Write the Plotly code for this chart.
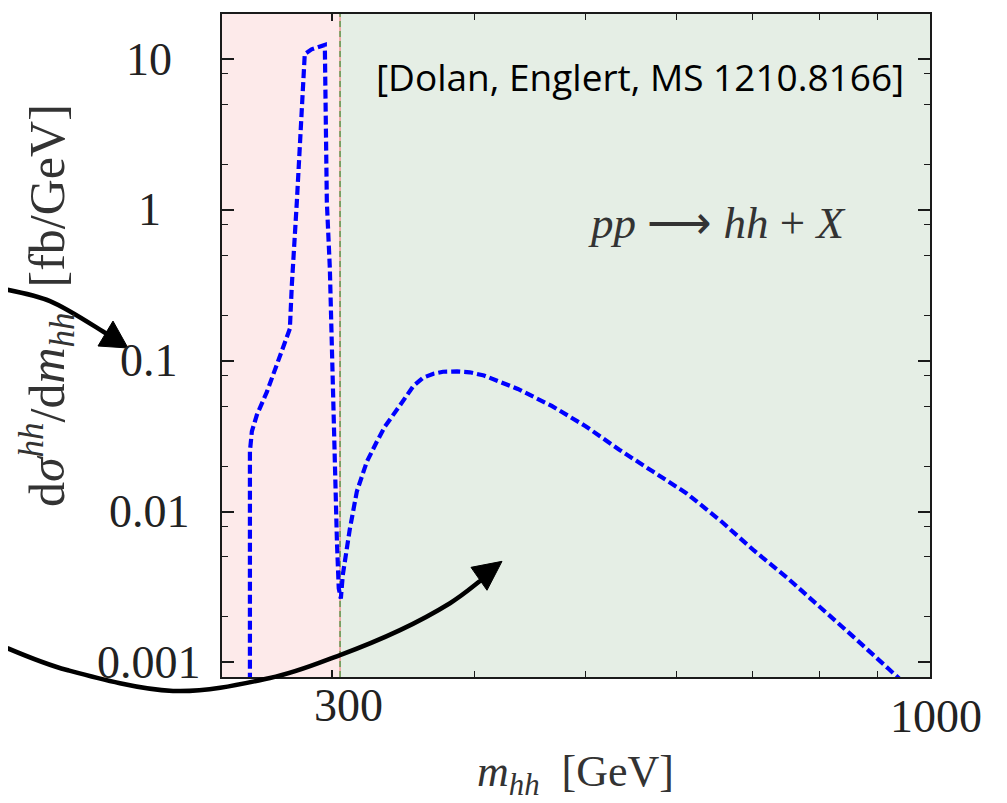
import numpy as np
import plotly.graph_objects as go

# ---------------- data ----------------
mhh = [254.4, 254.4, 255.4, 258.0, 263.3, 268.6, 274.1, 275.7, 276.8, 278.5,
       279.6, 284.1, 288.0, 295.8, 297.0, 298.8, 300.0, 301.8, 303.1, 304.2,
       305.5, 306.7, 311.1, 315.5, 321.9, 328.4, 333.8, 344.0, 348.7, 353.5,
       360.4, 368.1, 375.2, 386.0, 396.0, 407.5, 436.2, 467.0, 500.0, 535.0,
       572.6, 612.8, 655.9, 702.0, 751.3, 804.0, 860.4, 920.9, 953.0]
dsigma = [0.0005, 0.025, 0.034, 0.0438, 0.0624, 0.094, 0.14, 0.163, 0.318, 0.68,
          1.13, 10.8, 11.6, 12.4, 1.13, 0.41, 0.115, 0.029, 0.0063, 0.0031,
          0.00265, 0.0038, 0.0077, 0.0136, 0.0214, 0.029, 0.0366, 0.0504, 0.0593, 0.068,
          0.0771, 0.082, 0.0845, 0.085, 0.0838, 0.0798, 0.065, 0.0502, 0.0368, 0.0257,
          0.0184, 0.0132, 0.0087, 0.0055, 0.0036, 0.00229, 0.00144, 0.0009, 0.00071]

x_range = [240.5, 1000.0]
y_range = [0.0008, 19.9]
boundary = 305.0

x_tickvals = [300, 1000]
x_ticktext = ["300", "1000"]
x_minor = [400, 500, 600, 700, 800, 900]
y_tickvals = [0.001, 0.01, 0.1, 1, 10]
y_ticktext = ["0.001", "0.01", "0.1", "1", "10"]
y_minor = [m * 10.0 ** e for e in range(-3, 2) for m in (2, 5, 8)]

citation = "[Dolan, Englert, MS 1210.8166]"
process = "<i>pp</i> \u27f6 <i>hh</i> + <i>X</i>"
x_title = "<i>m</i><sub><i>hh</i></sub>  [GeV]"
y_title = "d<i>\u03c3</i><sup><i>hh</i></sup>/d<i>m</i><sub><i>hh</i></sub>  [fb/GeV]"

# ---------------- layout geometry ----------------
# page is rendered with an 8px body margin, so the figure is 8px smaller
OFF = 8
W, H = 1007 - OFF, 803 - OFF
L, R, T, B = 222 - OFF, 77, 12 - OFF, 126
PW, PH = W - L - R, H - T - B
PLOT_L, PLOT_B = L + OFF, T + OFF + PH   # page coordinates of plot corner


def px(xp, yp):
    """page pixel position -> paper coordinates (for decorations only)"""
    return (xp - PLOT_L) / PW, (PLOT_B - yp) / PH


def smooth_path(pts):
    P = [px(*p) for p in pts]
    d = "M %.5f %.5f" % P[0]
    for i in range(len(P) - 1):
        p0 = P[i - 1] if i > 0 else P[i]
        p1, p2 = P[i], P[i + 1]
        p3 = P[i + 2] if i + 2 < len(P) else P[i + 1]
        c1 = (p1[0] + (p2[0] - p0[0]) / 6, p1[1] + (p2[1] - p0[1]) / 6)
        c2 = (p2[0] - (p3[0] - p1[0]) / 6, p2[1] - (p3[1] - p1[1]) / 6)
        d += " C %.5f %.5f %.5f %.5f %.5f %.5f" % (c1 + c2 + p2)
    return d


def tri_path(pts):
    P = [px(*p) for p in pts]
    return "M %.5f %.5f L %.5f %.5f L %.5f %.5f Z" % (P[0] + P[1] + P[2])


lx0, lx1 = np.log10(x_range[0]), np.log10(x_range[1])
xb = (np.log10(boundary) - lx0) / (lx1 - lx0)

fig = go.Figure()
fig.add_trace(go.Scatter(
    x=mhh, y=dsigma, mode="lines",
    line=dict(color="#0000ff", width=4.2, dash="9px,4px"),
    showlegend=False, hoverinfo="skip"))

shapes = [
    dict(type="rect", xref="paper", yref="paper", x0=0, x1=xb, y0=0, y1=1,
         fillcolor="#fdeaea", line=dict(width=0), layer="below"),
    dict(type="rect", xref="paper", yref="paper", x0=xb, x1=1, y0=0, y1=1,
         fillcolor="#e5eee5", line=dict(width=0), layer="below"),
    dict(type="line", xref="paper", yref="paper", x0=xb, x1=xb, y0=0, y1=1,
         line=dict(color="#f08080", width=1.2), layer="below"),
    dict(type="line", xref="paper", yref="paper", x0=xb, x1=xb, y0=0, y1=1,
         line=dict(color="#3a9a3a", width=1.2, dash="6px,4px"), layer="below"),
    # decorative arrows
    dict(type="path", xref="paper", yref="paper",
         path=smooth_path([(-5, 286), (50, 300), (107, 333)]),
         line=dict(color="black", width=4.5)),
    dict(type="path", xref="paper", yref="paper",
         path=tri_path([(128, 347), (98, 345), (113, 320)]),
         fillcolor="black", line=dict(color="black", width=1)),
    dict(type="path", xref="paper", yref="paper",
         path=smooth_path([(-5, 643), (67, 670), (173, 691), (270, 678),
                           (340, 655), (400, 630), (450, 603), (481, 580)]),
         line=dict(color="black", width=4.5)),
    dict(type="path", xref="paper", yref="paper",
         path=tri_path([(502, 561), (471, 567), (487, 590)]),
         fillcolor="black", line=dict(color="black", width=1)),
]

serif = "Liberation Serif, Times New Roman, serif"
tick_font = dict(family=serif, size=46, color="#222222")
ax_common = dict(
    type="log", showgrid=False, zeroline=False,
    showline=True, linecolor="#1a1a1a", linewidth=2, mirror="ticks",
    ticks="inside", tickcolor="#1a1a1a", tickwidth=1.6, showticklabels=False,
)

annotations = []
# y tick labels: centred in a column left of the axis (as in the reference)
for v, t in zip(y_tickvals, y_ticktext):
    annotations.append(dict(text=t, xref="paper", x=px(149, 0)[0], yref="y",
                            y=np.log10(v), showarrow=False, xanchor="center",
                            yanchor="middle", font=tick_font))
# x tick labels
x_label_shift = [(17, 28), (6, 39)]
for v, t, (dx, dy) in zip(x_tickvals, x_ticktext, x_label_shift):
    annotations.append(dict(text=t, xref="x", x=np.log10(v), yref="paper", y=0,
                            showarrow=False, xanchor="center", yanchor="middle",
                            xshift=dx, yshift=-dy, font=tick_font))

annotations += [
    dict(text=citation, xref="paper", yref="paper",
         x=px(640, 75)[0], y=px(640, 75)[1], showarrow=False,
         xanchor="center", yanchor="middle",
         font=dict(family="Comic Sans MS, Open Sans, sans-serif", size=37, color="black")),
    dict(text=process, xref="paper", yref="paper",
         x=px(716, 222)[0], y=px(716, 222)[1], showarrow=False,
         xanchor="center", yanchor="middle",
         font=dict(family=serif, size=45, color="#333333")),
    dict(text=x_title, xref="paper", yref="paper",
         x=px(575, 775)[0], y=px(575, 775)[1], showarrow=False,
         xanchor="center", yanchor="middle",
         font=dict(family=serif, size=44, color="#333333")),
    dict(text=y_title, xref="paper", yref="paper", textangle=-90,
         x=px(47, 305)[0], y=px(47, 305)[1], showarrow=False,
         xanchor="center", yanchor="middle",
         font=dict(family=serif, size=50, color="#333333")),
]

fig.update_layout(
    width=W, height=H,
    margin=dict(l=L, r=R, t=T, b=B),
    paper_bgcolor="white", plot_bgcolor="white",
    shapes=shapes,
    xaxis=dict(ax_common, range=[lx0, lx1], tickmode="array",
               tickvals=x_tickvals, ticktext=x_ticktext, ticklen=7,
               minor=dict(tickmode="array", tickvals=x_minor, ticklen=6,
                          ticks="inside", tickcolor="#1a1a1a", tickwidth=1.4)),
    yaxis=dict(ax_common, range=[np.log10(y_range[0]), np.log10(y_range[1])],
               tickmode="array", tickvals=y_tickvals, ticktext=y_ticktext,
               ticklen=12,
               minor=dict(tickmode="array", tickvals=y_minor, ticklen=6,
                          ticks="inside", tickcolor="#1a1a1a", tickwidth=1.4)),
    annotations=annotations,
)

fig.write_html("out.html")
